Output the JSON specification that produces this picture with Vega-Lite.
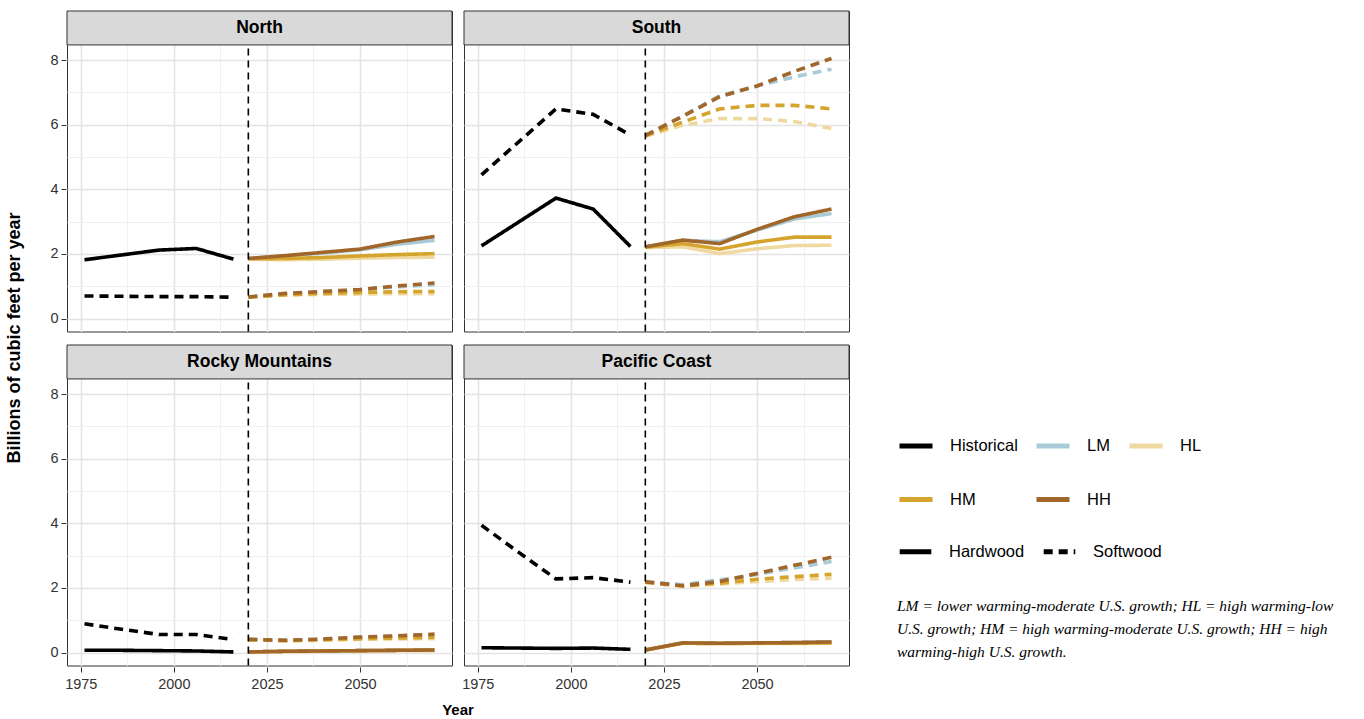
{
  "$schema": "https://vega.github.io/schema/vega-lite/v6.json",
  "background": "white",
  "padding": {"left": 5, "top": 10, "right": 5, "bottom": 5},
  "data": {"values": [
    {"region":"North","wood":"Hardwood","scenario":"Historical","year":1976,"value":1.82},
    {"region":"North","wood":"Hardwood","scenario":"Historical","year":1986,"value":1.97},
    {"region":"North","wood":"Hardwood","scenario":"Historical","year":1996,"value":2.12},
    {"region":"North","wood":"Hardwood","scenario":"Historical","year":2006,"value":2.17},
    {"region":"North","wood":"Hardwood","scenario":"Historical","year":2016,"value":1.84},
    {"region":"North","wood":"Softwood","scenario":"Historical","year":1976,"value":0.70},
    {"region":"North","wood":"Softwood","scenario":"Historical","year":1986,"value":0.69},
    {"region":"North","wood":"Softwood","scenario":"Historical","year":1996,"value":0.68},
    {"region":"North","wood":"Softwood","scenario":"Historical","year":2006,"value":0.68},
    {"region":"North","wood":"Softwood","scenario":"Historical","year":2016,"value":0.66},
    {"region":"North","wood":"Hardwood","scenario":"LM","year":2020,"value":1.86},
    {"region":"North","wood":"Hardwood","scenario":"LM","year":2030,"value":1.94},
    {"region":"North","wood":"Hardwood","scenario":"LM","year":2040,"value":2.03},
    {"region":"North","wood":"Hardwood","scenario":"LM","year":2050,"value":2.13},
    {"region":"North","wood":"Hardwood","scenario":"LM","year":2060,"value":2.30},
    {"region":"North","wood":"Hardwood","scenario":"LM","year":2070,"value":2.42},
    {"region":"North","wood":"Hardwood","scenario":"HL","year":2020,"value":1.84},
    {"region":"North","wood":"Hardwood","scenario":"HL","year":2030,"value":1.82},
    {"region":"North","wood":"Hardwood","scenario":"HL","year":2040,"value":1.84},
    {"region":"North","wood":"Hardwood","scenario":"HL","year":2050,"value":1.87},
    {"region":"North","wood":"Hardwood","scenario":"HL","year":2060,"value":1.89},
    {"region":"North","wood":"Hardwood","scenario":"HL","year":2070,"value":1.90},
    {"region":"North","wood":"Hardwood","scenario":"HM","year":2020,"value":1.85},
    {"region":"North","wood":"Hardwood","scenario":"HM","year":2030,"value":1.86},
    {"region":"North","wood":"Hardwood","scenario":"HM","year":2040,"value":1.89},
    {"region":"North","wood":"Hardwood","scenario":"HM","year":2050,"value":1.94},
    {"region":"North","wood":"Hardwood","scenario":"HM","year":2060,"value":1.98},
    {"region":"North","wood":"Hardwood","scenario":"HM","year":2070,"value":2.01},
    {"region":"North","wood":"Hardwood","scenario":"HH","year":2020,"value":1.86},
    {"region":"North","wood":"Hardwood","scenario":"HH","year":2030,"value":1.95},
    {"region":"North","wood":"Hardwood","scenario":"HH","year":2040,"value":2.05},
    {"region":"North","wood":"Hardwood","scenario":"HH","year":2050,"value":2.15},
    {"region":"North","wood":"Hardwood","scenario":"HH","year":2060,"value":2.37},
    {"region":"North","wood":"Hardwood","scenario":"HH","year":2070,"value":2.54},
    {"region":"North","wood":"Softwood","scenario":"LM","year":2020,"value":0.67},
    {"region":"North","wood":"Softwood","scenario":"LM","year":2030,"value":0.77},
    {"region":"North","wood":"Softwood","scenario":"LM","year":2040,"value":0.83},
    {"region":"North","wood":"Softwood","scenario":"LM","year":2050,"value":0.89},
    {"region":"North","wood":"Softwood","scenario":"LM","year":2060,"value":0.98},
    {"region":"North","wood":"Softwood","scenario":"LM","year":2070,"value":1.05},
    {"region":"North","wood":"Softwood","scenario":"HL","year":2020,"value":0.66},
    {"region":"North","wood":"Softwood","scenario":"HL","year":2030,"value":0.73},
    {"region":"North","wood":"Softwood","scenario":"HL","year":2040,"value":0.75},
    {"region":"North","wood":"Softwood","scenario":"HL","year":2050,"value":0.76},
    {"region":"North","wood":"Softwood","scenario":"HL","year":2060,"value":0.77},
    {"region":"North","wood":"Softwood","scenario":"HL","year":2070,"value":0.77},
    {"region":"North","wood":"Softwood","scenario":"HM","year":2020,"value":0.66},
    {"region":"North","wood":"Softwood","scenario":"HM","year":2030,"value":0.74},
    {"region":"North","wood":"Softwood","scenario":"HM","year":2040,"value":0.78},
    {"region":"North","wood":"Softwood","scenario":"HM","year":2050,"value":0.81},
    {"region":"North","wood":"Softwood","scenario":"HM","year":2060,"value":0.83},
    {"region":"North","wood":"Softwood","scenario":"HM","year":2070,"value":0.84},
    {"region":"North","wood":"Softwood","scenario":"HH","year":2020,"value":0.67},
    {"region":"North","wood":"Softwood","scenario":"HH","year":2030,"value":0.78},
    {"region":"North","wood":"Softwood","scenario":"HH","year":2040,"value":0.84},
    {"region":"North","wood":"Softwood","scenario":"HH","year":2050,"value":0.90},
    {"region":"North","wood":"Softwood","scenario":"HH","year":2060,"value":1.01},
    {"region":"North","wood":"Softwood","scenario":"HH","year":2070,"value":1.10},

    {"region":"South","wood":"Hardwood","scenario":"Historical","year":1976,"value":2.25},
    {"region":"South","wood":"Hardwood","scenario":"Historical","year":1986,"value":2.99},
    {"region":"South","wood":"Hardwood","scenario":"Historical","year":1996,"value":3.73},
    {"region":"South","wood":"Hardwood","scenario":"Historical","year":2006,"value":3.39},
    {"region":"South","wood":"Hardwood","scenario":"Historical","year":2016,"value":2.23},
    {"region":"South","wood":"Softwood","scenario":"Historical","year":1976,"value":4.45},
    {"region":"South","wood":"Softwood","scenario":"Historical","year":1986,"value":5.47},
    {"region":"South","wood":"Softwood","scenario":"Historical","year":1996,"value":6.49},
    {"region":"South","wood":"Softwood","scenario":"Historical","year":2006,"value":6.32},
    {"region":"South","wood":"Softwood","scenario":"Historical","year":2016,"value":5.68},
    {"region":"South","wood":"Hardwood","scenario":"LM","year":2020,"value":2.22},
    {"region":"South","wood":"Hardwood","scenario":"LM","year":2030,"value":2.42},
    {"region":"South","wood":"Hardwood","scenario":"LM","year":2040,"value":2.38},
    {"region":"South","wood":"Hardwood","scenario":"LM","year":2050,"value":2.74},
    {"region":"South","wood":"Hardwood","scenario":"LM","year":2060,"value":3.08},
    {"region":"South","wood":"Hardwood","scenario":"LM","year":2070,"value":3.25},
    {"region":"South","wood":"Hardwood","scenario":"HL","year":2020,"value":2.20},
    {"region":"South","wood":"Hardwood","scenario":"HL","year":2030,"value":2.22},
    {"region":"South","wood":"Hardwood","scenario":"HL","year":2040,"value":2.01},
    {"region":"South","wood":"Hardwood","scenario":"HL","year":2050,"value":2.16},
    {"region":"South","wood":"Hardwood","scenario":"HL","year":2060,"value":2.26},
    {"region":"South","wood":"Hardwood","scenario":"HL","year":2070,"value":2.27},
    {"region":"South","wood":"Hardwood","scenario":"HM","year":2020,"value":2.21},
    {"region":"South","wood":"Hardwood","scenario":"HM","year":2030,"value":2.32},
    {"region":"South","wood":"Hardwood","scenario":"HM","year":2040,"value":2.15},
    {"region":"South","wood":"Hardwood","scenario":"HM","year":2050,"value":2.37},
    {"region":"South","wood":"Hardwood","scenario":"HM","year":2060,"value":2.52},
    {"region":"South","wood":"Hardwood","scenario":"HM","year":2070,"value":2.52},
    {"region":"South","wood":"Hardwood","scenario":"HH","year":2020,"value":2.22},
    {"region":"South","wood":"Hardwood","scenario":"HH","year":2030,"value":2.43},
    {"region":"South","wood":"Hardwood","scenario":"HH","year":2040,"value":2.32},
    {"region":"South","wood":"Hardwood","scenario":"HH","year":2050,"value":2.76},
    {"region":"South","wood":"Hardwood","scenario":"HH","year":2060,"value":3.15},
    {"region":"South","wood":"Hardwood","scenario":"HH","year":2070,"value":3.39},
    {"region":"South","wood":"Softwood","scenario":"LM","year":2020,"value":5.67},
    {"region":"South","wood":"Softwood","scenario":"LM","year":2030,"value":6.26},
    {"region":"South","wood":"Softwood","scenario":"LM","year":2040,"value":6.90},
    {"region":"South","wood":"Softwood","scenario":"LM","year":2050,"value":7.20},
    {"region":"South","wood":"Softwood","scenario":"LM","year":2060,"value":7.48},
    {"region":"South","wood":"Softwood","scenario":"LM","year":2070,"value":7.72},
    {"region":"South","wood":"Softwood","scenario":"HL","year":2020,"value":5.64},
    {"region":"South","wood":"Softwood","scenario":"HL","year":2030,"value":5.98},
    {"region":"South","wood":"Softwood","scenario":"HL","year":2040,"value":6.19},
    {"region":"South","wood":"Softwood","scenario":"HL","year":2050,"value":6.19},
    {"region":"South","wood":"Softwood","scenario":"HL","year":2060,"value":6.10},
    {"region":"South","wood":"Softwood","scenario":"HL","year":2070,"value":5.88},
    {"region":"South","wood":"Softwood","scenario":"HM","year":2020,"value":5.66},
    {"region":"South","wood":"Softwood","scenario":"HM","year":2030,"value":6.08},
    {"region":"South","wood":"Softwood","scenario":"HM","year":2040,"value":6.49},
    {"region":"South","wood":"Softwood","scenario":"HM","year":2050,"value":6.60},
    {"region":"South","wood":"Softwood","scenario":"HM","year":2060,"value":6.60},
    {"region":"South","wood":"Softwood","scenario":"HM","year":2070,"value":6.49},
    {"region":"South","wood":"Softwood","scenario":"HH","year":2020,"value":5.67},
    {"region":"South","wood":"Softwood","scenario":"HH","year":2030,"value":6.26},
    {"region":"South","wood":"Softwood","scenario":"HH","year":2040,"value":6.87},
    {"region":"South","wood":"Softwood","scenario":"HH","year":2050,"value":7.20},
    {"region":"South","wood":"Softwood","scenario":"HH","year":2060,"value":7.65},
    {"region":"South","wood":"Softwood","scenario":"HH","year":2070,"value":8.05},

    {"region":"Rocky Mountains","wood":"Hardwood","scenario":"Historical","year":1976,"value":0.07},
    {"region":"Rocky Mountains","wood":"Hardwood","scenario":"Historical","year":1986,"value":0.07},
    {"region":"Rocky Mountains","wood":"Hardwood","scenario":"Historical","year":1996,"value":0.06},
    {"region":"Rocky Mountains","wood":"Hardwood","scenario":"Historical","year":2006,"value":0.05},
    {"region":"Rocky Mountains","wood":"Hardwood","scenario":"Historical","year":2016,"value":0.02},
    {"region":"Rocky Mountains","wood":"Softwood","scenario":"Historical","year":1976,"value":0.89},
    {"region":"Rocky Mountains","wood":"Softwood","scenario":"Historical","year":1986,"value":0.72},
    {"region":"Rocky Mountains","wood":"Softwood","scenario":"Historical","year":1996,"value":0.56},
    {"region":"Rocky Mountains","wood":"Softwood","scenario":"Historical","year":2006,"value":0.56},
    {"region":"Rocky Mountains","wood":"Softwood","scenario":"Historical","year":2016,"value":0.40},
    {"region":"Rocky Mountains","wood":"Hardwood","scenario":"LM","year":2020,"value":0.02},
    {"region":"Rocky Mountains","wood":"Hardwood","scenario":"LM","year":2030,"value":0.04},
    {"region":"Rocky Mountains","wood":"Hardwood","scenario":"LM","year":2040,"value":0.05},
    {"region":"Rocky Mountains","wood":"Hardwood","scenario":"LM","year":2050,"value":0.06},
    {"region":"Rocky Mountains","wood":"Hardwood","scenario":"LM","year":2060,"value":0.07},
    {"region":"Rocky Mountains","wood":"Hardwood","scenario":"LM","year":2070,"value":0.08},
    {"region":"Rocky Mountains","wood":"Hardwood","scenario":"HL","year":2020,"value":0.02},
    {"region":"Rocky Mountains","wood":"Hardwood","scenario":"HL","year":2030,"value":0.03},
    {"region":"Rocky Mountains","wood":"Hardwood","scenario":"HL","year":2040,"value":0.04},
    {"region":"Rocky Mountains","wood":"Hardwood","scenario":"HL","year":2050,"value":0.05},
    {"region":"Rocky Mountains","wood":"Hardwood","scenario":"HL","year":2060,"value":0.06},
    {"region":"Rocky Mountains","wood":"Hardwood","scenario":"HL","year":2070,"value":0.06},
    {"region":"Rocky Mountains","wood":"Hardwood","scenario":"HM","year":2020,"value":0.02},
    {"region":"Rocky Mountains","wood":"Hardwood","scenario":"HM","year":2030,"value":0.04},
    {"region":"Rocky Mountains","wood":"Hardwood","scenario":"HM","year":2040,"value":0.05},
    {"region":"Rocky Mountains","wood":"Hardwood","scenario":"HM","year":2050,"value":0.06},
    {"region":"Rocky Mountains","wood":"Hardwood","scenario":"HM","year":2060,"value":0.07},
    {"region":"Rocky Mountains","wood":"Hardwood","scenario":"HM","year":2070,"value":0.07},
    {"region":"Rocky Mountains","wood":"Hardwood","scenario":"HH","year":2020,"value":0.02},
    {"region":"Rocky Mountains","wood":"Hardwood","scenario":"HH","year":2030,"value":0.04},
    {"region":"Rocky Mountains","wood":"Hardwood","scenario":"HH","year":2040,"value":0.05},
    {"region":"Rocky Mountains","wood":"Hardwood","scenario":"HH","year":2050,"value":0.06},
    {"region":"Rocky Mountains","wood":"Hardwood","scenario":"HH","year":2060,"value":0.07},
    {"region":"Rocky Mountains","wood":"Hardwood","scenario":"HH","year":2070,"value":0.08},
    {"region":"Rocky Mountains","wood":"Softwood","scenario":"LM","year":2020,"value":0.41},
    {"region":"Rocky Mountains","wood":"Softwood","scenario":"LM","year":2030,"value":0.38},
    {"region":"Rocky Mountains","wood":"Softwood","scenario":"LM","year":2040,"value":0.42},
    {"region":"Rocky Mountains","wood":"Softwood","scenario":"LM","year":2050,"value":0.47},
    {"region":"Rocky Mountains","wood":"Softwood","scenario":"LM","year":2060,"value":0.51},
    {"region":"Rocky Mountains","wood":"Softwood","scenario":"LM","year":2070,"value":0.55},
    {"region":"Rocky Mountains","wood":"Softwood","scenario":"HL","year":2020,"value":0.40},
    {"region":"Rocky Mountains","wood":"Softwood","scenario":"HL","year":2030,"value":0.36},
    {"region":"Rocky Mountains","wood":"Softwood","scenario":"HL","year":2040,"value":0.38},
    {"region":"Rocky Mountains","wood":"Softwood","scenario":"HL","year":2050,"value":0.41},
    {"region":"Rocky Mountains","wood":"Softwood","scenario":"HL","year":2060,"value":0.42},
    {"region":"Rocky Mountains","wood":"Softwood","scenario":"HL","year":2070,"value":0.43},
    {"region":"Rocky Mountains","wood":"Softwood","scenario":"HM","year":2020,"value":0.40},
    {"region":"Rocky Mountains","wood":"Softwood","scenario":"HM","year":2030,"value":0.37},
    {"region":"Rocky Mountains","wood":"Softwood","scenario":"HM","year":2040,"value":0.40},
    {"region":"Rocky Mountains","wood":"Softwood","scenario":"HM","year":2050,"value":0.43},
    {"region":"Rocky Mountains","wood":"Softwood","scenario":"HM","year":2060,"value":0.45},
    {"region":"Rocky Mountains","wood":"Softwood","scenario":"HM","year":2070,"value":0.47},
    {"region":"Rocky Mountains","wood":"Softwood","scenario":"HH","year":2020,"value":0.41},
    {"region":"Rocky Mountains","wood":"Softwood","scenario":"HH","year":2030,"value":0.38},
    {"region":"Rocky Mountains","wood":"Softwood","scenario":"HH","year":2040,"value":0.42},
    {"region":"Rocky Mountains","wood":"Softwood","scenario":"HH","year":2050,"value":0.48},
    {"region":"Rocky Mountains","wood":"Softwood","scenario":"HH","year":2060,"value":0.52},
    {"region":"Rocky Mountains","wood":"Softwood","scenario":"HH","year":2070,"value":0.57},

    {"region":"Pacific Coast","wood":"Hardwood","scenario":"Historical","year":1976,"value":0.15},
    {"region":"Pacific Coast","wood":"Hardwood","scenario":"Historical","year":1986,"value":0.14},
    {"region":"Pacific Coast","wood":"Hardwood","scenario":"Historical","year":1996,"value":0.13},
    {"region":"Pacific Coast","wood":"Hardwood","scenario":"Historical","year":2006,"value":0.14},
    {"region":"Pacific Coast","wood":"Hardwood","scenario":"Historical","year":2016,"value":0.10},
    {"region":"Pacific Coast","wood":"Softwood","scenario":"Historical","year":1976,"value":3.94},
    {"region":"Pacific Coast","wood":"Softwood","scenario":"Historical","year":1986,"value":3.10},
    {"region":"Pacific Coast","wood":"Softwood","scenario":"Historical","year":1996,"value":2.28},
    {"region":"Pacific Coast","wood":"Softwood","scenario":"Historical","year":2006,"value":2.32},
    {"region":"Pacific Coast","wood":"Softwood","scenario":"Historical","year":2016,"value":2.18},
    {"region":"Pacific Coast","wood":"Hardwood","scenario":"LM","year":2020,"value":0.08},
    {"region":"Pacific Coast","wood":"Hardwood","scenario":"LM","year":2030,"value":0.30},
    {"region":"Pacific Coast","wood":"Hardwood","scenario":"LM","year":2040,"value":0.29},
    {"region":"Pacific Coast","wood":"Hardwood","scenario":"LM","year":2050,"value":0.30},
    {"region":"Pacific Coast","wood":"Hardwood","scenario":"LM","year":2060,"value":0.31},
    {"region":"Pacific Coast","wood":"Hardwood","scenario":"LM","year":2070,"value":0.33},
    {"region":"Pacific Coast","wood":"Hardwood","scenario":"HL","year":2020,"value":0.08},
    {"region":"Pacific Coast","wood":"Hardwood","scenario":"HL","year":2030,"value":0.29},
    {"region":"Pacific Coast","wood":"Hardwood","scenario":"HL","year":2040,"value":0.28},
    {"region":"Pacific Coast","wood":"Hardwood","scenario":"HL","year":2050,"value":0.28},
    {"region":"Pacific Coast","wood":"Hardwood","scenario":"HL","year":2060,"value":0.28},
    {"region":"Pacific Coast","wood":"Hardwood","scenario":"HL","year":2070,"value":0.29},
    {"region":"Pacific Coast","wood":"Hardwood","scenario":"HM","year":2020,"value":0.08},
    {"region":"Pacific Coast","wood":"Hardwood","scenario":"HM","year":2030,"value":0.29},
    {"region":"Pacific Coast","wood":"Hardwood","scenario":"HM","year":2040,"value":0.28},
    {"region":"Pacific Coast","wood":"Hardwood","scenario":"HM","year":2050,"value":0.29},
    {"region":"Pacific Coast","wood":"Hardwood","scenario":"HM","year":2060,"value":0.29},
    {"region":"Pacific Coast","wood":"Hardwood","scenario":"HM","year":2070,"value":0.30},
    {"region":"Pacific Coast","wood":"Hardwood","scenario":"HH","year":2020,"value":0.08},
    {"region":"Pacific Coast","wood":"Hardwood","scenario":"HH","year":2030,"value":0.30},
    {"region":"Pacific Coast","wood":"Hardwood","scenario":"HH","year":2040,"value":0.29},
    {"region":"Pacific Coast","wood":"Hardwood","scenario":"HH","year":2050,"value":0.30},
    {"region":"Pacific Coast","wood":"Hardwood","scenario":"HH","year":2060,"value":0.31},
    {"region":"Pacific Coast","wood":"Hardwood","scenario":"HH","year":2070,"value":0.33},
    {"region":"Pacific Coast","wood":"Softwood","scenario":"LM","year":2020,"value":2.19},
    {"region":"Pacific Coast","wood":"Softwood","scenario":"LM","year":2030,"value":2.10},
    {"region":"Pacific Coast","wood":"Softwood","scenario":"LM","year":2040,"value":2.25},
    {"region":"Pacific Coast","wood":"Softwood","scenario":"LM","year":2050,"value":2.42},
    {"region":"Pacific Coast","wood":"Softwood","scenario":"LM","year":2060,"value":2.62},
    {"region":"Pacific Coast","wood":"Softwood","scenario":"LM","year":2070,"value":2.82},
    {"region":"Pacific Coast","wood":"Softwood","scenario":"HL","year":2020,"value":2.17},
    {"region":"Pacific Coast","wood":"Softwood","scenario":"HL","year":2030,"value":2.05},
    {"region":"Pacific Coast","wood":"Softwood","scenario":"HL","year":2040,"value":2.12},
    {"region":"Pacific Coast","wood":"Softwood","scenario":"HL","year":2050,"value":2.20},
    {"region":"Pacific Coast","wood":"Softwood","scenario":"HL","year":2060,"value":2.26},
    {"region":"Pacific Coast","wood":"Softwood","scenario":"HL","year":2070,"value":2.30},
    {"region":"Pacific Coast","wood":"Softwood","scenario":"HM","year":2020,"value":2.18},
    {"region":"Pacific Coast","wood":"Softwood","scenario":"HM","year":2030,"value":2.06},
    {"region":"Pacific Coast","wood":"Softwood","scenario":"HM","year":2040,"value":2.15},
    {"region":"Pacific Coast","wood":"Softwood","scenario":"HM","year":2050,"value":2.27},
    {"region":"Pacific Coast","wood":"Softwood","scenario":"HM","year":2060,"value":2.35},
    {"region":"Pacific Coast","wood":"Softwood","scenario":"HM","year":2070,"value":2.42},
    {"region":"Pacific Coast","wood":"Softwood","scenario":"HH","year":2020,"value":2.19},
    {"region":"Pacific Coast","wood":"Softwood","scenario":"HH","year":2030,"value":2.07},
    {"region":"Pacific Coast","wood":"Softwood","scenario":"HH","year":2040,"value":2.20},
    {"region":"Pacific Coast","wood":"Softwood","scenario":"HH","year":2050,"value":2.45},
    {"region":"Pacific Coast","wood":"Softwood","scenario":"HH","year":2060,"value":2.70},
    {"region":"Pacific Coast","wood":"Softwood","scenario":"HH","year":2070,"value":2.95}
  ]},
  "transform": [
    {"calculate": "datum.region === 'North' || datum.region === 'South' ? 'top' : 'bottom'", "as": "rowpos"},
    {"calculate": "datum.region === 'North' || datum.region === 'Rocky Mountains' ? 'left' : 'right'", "as": "colpos"}
  ],
  "facet": {
    "row": {"field": "rowpos", "type": "nominal", "sort": ["top", "bottom"],
      "header": {"labels": false, "title": "Billions of cubic feet per year", "titleFont": "Liberation Sans", "titleFontSize": 18, "titleFontWeight": "bold", "titleColor": "black", "titlePadding": 15}},
    "column": {"field": "colpos", "type": "nominal", "sort": ["left", "right"],
      "header": {"labels": false, "title": "Year", "titleOrient": "bottom", "titleFont": "Liberation Sans", "titleFontSize": 15, "titleFontWeight": "bold", "titleColor": "black", "titlePadding": 2}}
  },
  "spacing": {"row": 11, "column": 10},
  "spec": {
    "width": 385,
    "height": 320.5,
    "layer": [
      {
        "mark": {"type": "line", "strokeWidth": 3.6, "strokeCap": "butt", "strokeJoin": "round"},
        "encoding": {
          "x": {"field": "year", "type": "quantitative",
            "scale": {"domain": [1971.3, 2074.7], "nice": false, "zero": false},
            "axis": {"title": null, "values": [1975, 1987.5, 2000, 2012.5, 2025, 2037.5, 2050, 2062.5], "format": "d",
              "labelExpr": "datum.value % 25 === 0 ? datum.label : ''",
              "tickOpacity": {"condition": {"test": "datum.value % 25 === 0", "value": 1}, "value": 0},
              "gridColor": {"condition": {"test": "datum.value % 25 === 0", "value": "#e4e4e4"}, "value": "#f0f0f0"},
              "gridWidth": {"condition": {"test": "datum.value % 25 === 0", "value": 1.6}, "value": 1},
              "domain": false, "tickColor": "#333333", "tickSize": 5, "labelFont": "Liberation Sans", "labelFontSize": 14.5, "labelColor": "#333333", "labelPadding": 5}},
          "y": {"field": "value", "type": "quantitative",
            "scale": {"domain": [-0.4, 9.52], "nice": false, "zero": false},
            "axis": {"title": null, "values": [0, 1, 2, 3, 4, 5, 6, 7, 8],
              "labelExpr": "datum.value % 2 === 0 ? datum.label : ''",
              "tickOpacity": {"condition": {"test": "datum.value % 2 === 0", "value": 1}, "value": 0},
              "gridColor": {"condition": {"test": "datum.value % 2 === 0", "value": "#e4e4e4"}, "value": "#f0f0f0"},
              "gridWidth": {"condition": {"test": "datum.value % 2 === 0", "value": 1.6}, "value": 1},
              "domain": false, "tickColor": "#333333", "tickSize": 5, "labelFont": "Liberation Sans", "labelFontSize": 14.5, "labelColor": "#333333", "labelPadding": 3}},
          "color": {"field": "scenario", "type": "nominal",
            "scale": {"domain": ["Historical", "LM", "HL", "HM", "HH"], "range": ["#000000", "#a9cbd8", "#f0d9a0", "#d4a42c", "#a0662a"]},
            "legend": {"orient": "none", "legendX": 830, "legendY": 416, "columns": 3, "title": null, "direction": "horizontal",
              "symbolType": "stroke", "symbolSize": 1089, "symbolStrokeWidth": 5,
              "labelFont": "Liberation Sans", "labelFontSize": 16.5, "labelColor": "black", "labelOffset": 15,
              "columnPadding": 8, "rowPadding": 24.5}},
          "strokeDash": {"field": "wood", "type": "nominal",
            "scale": {"domain": ["Hardwood", "Softwood"], "range": [[1, 0], [9, 6]]},
            "legend": {"orient": "none", "legendX": 830, "legendY": 522, "columns": 2, "direction": "horizontal",
              "title": ["LM = lower warming-moderate U.S. growth; HL = high warming-low", "U.S. growth; HM = high warming-moderate U.S. growth; HH = high", "warming-high U.S. growth."],
              "titleOrient": "bottom", "titleAnchor": "start", "titleAlign": "left", "titleFont": "Liberation Serif", "titleFontStyle": "italic", "titleFontWeight": "normal", "titleFontSize": 15.5, "titleLineHeight": 23, "titleLimit": 1000, "titleColor": "black", "titlePadding": 37,
              "symbolType": "stroke", "symbolSize": 1000, "symbolStrokeWidth": 5, "symbolStrokeColor": "black",
              "labelFont": "Liberation Sans", "labelFontSize": 16.5, "labelColor": "black", "labelOffset": 15,
              "columnPadding": 8}}
        }
      },
      {
        "transform": [{"aggregate": [{"op": "count", "as": "n"}], "groupby": ["region"]}],
        "mark": {"type": "rule", "strokeDash": [7, 5], "strokeWidth": 1.6, "color": "black"},
        "encoding": {
          "x": {"datum": 2020, "type": "quantitative", "scale": {"domain": [1971.3, 2074.7], "nice": false, "zero": false},
            "axis": {"title": null, "values": [1975, 1987.5, 2000, 2012.5, 2025, 2037.5, 2050, 2062.5], "format": "d",
              "labelExpr": "datum.value % 25 === 0 ? datum.label : ''",
              "tickOpacity": {"condition": {"test": "datum.value % 25 === 0", "value": 1}, "value": 0},
              "gridColor": {"condition": {"test": "datum.value % 25 === 0", "value": "#e4e4e4"}, "value": "#f0f0f0"},
              "gridWidth": {"condition": {"test": "datum.value % 25 === 0", "value": 1.6}, "value": 1},
              "domain": false, "tickColor": "#333333", "tickSize": 5, "labelFont": "Liberation Sans", "labelFontSize": 14.5, "labelColor": "#333333", "labelPadding": 5}},
          "y": {"datum": -0.4, "type": "quantitative", "scale": {"domain": [-0.4, 9.52], "nice": false, "zero": false},
            "axis": {"title": null, "values": [0, 1, 2, 3, 4, 5, 6, 7, 8],
              "labelExpr": "datum.value % 2 === 0 ? datum.label : ''",
              "tickOpacity": {"condition": {"test": "datum.value % 2 === 0", "value": 1}, "value": 0},
              "gridColor": {"condition": {"test": "datum.value % 2 === 0", "value": "#e4e4e4"}, "value": "#f0f0f0"},
              "gridWidth": {"condition": {"test": "datum.value % 2 === 0", "value": 1.6}, "value": 1},
              "domain": false, "tickColor": "#333333", "tickSize": 5, "labelFont": "Liberation Sans", "labelFontSize": 14.5, "labelColor": "#333333", "labelPadding": 3}},
          "y2": {"datum": 8.47}
        }
      },
      {
        "transform": [{"aggregate": [{"op": "count", "as": "n"}], "groupby": ["region"]}],
        "mark": {"type": "rect", "fill": "#d9d9d9", "stroke": "#333333", "strokeWidth": 1},
        "encoding": {
          "x": {"datum": 1971.3, "type": "quantitative", "scale": {"domain": [1971.3, 2074.7], "nice": false, "zero": false},
            "axis": {"title": null, "values": [1975, 1987.5, 2000, 2012.5, 2025, 2037.5, 2050, 2062.5], "format": "d",
              "labelExpr": "datum.value % 25 === 0 ? datum.label : ''",
              "tickOpacity": {"condition": {"test": "datum.value % 25 === 0", "value": 1}, "value": 0},
              "gridColor": {"condition": {"test": "datum.value % 25 === 0", "value": "#e4e4e4"}, "value": "#f0f0f0"},
              "gridWidth": {"condition": {"test": "datum.value % 25 === 0", "value": 1.6}, "value": 1},
              "domain": false, "tickColor": "#333333", "tickSize": 5, "labelFont": "Liberation Sans", "labelFontSize": 14.5, "labelColor": "#333333", "labelPadding": 5}},
          "x2": {"datum": 2074.7},
          "y": {"datum": 8.47, "type": "quantitative", "scale": {"domain": [-0.4, 9.52], "nice": false, "zero": false},
            "axis": {"title": null, "values": [0, 1, 2, 3, 4, 5, 6, 7, 8],
              "labelExpr": "datum.value % 2 === 0 ? datum.label : ''",
              "tickOpacity": {"condition": {"test": "datum.value % 2 === 0", "value": 1}, "value": 0},
              "gridColor": {"condition": {"test": "datum.value % 2 === 0", "value": "#e4e4e4"}, "value": "#f0f0f0"},
              "gridWidth": {"condition": {"test": "datum.value % 2 === 0", "value": 1.6}, "value": 1},
              "domain": false, "tickColor": "#333333", "tickSize": 5, "labelFont": "Liberation Sans", "labelFontSize": 14.5, "labelColor": "#333333", "labelPadding": 3}},
          "y2": {"datum": 9.52}
        }
      },
      {
        "transform": [{"aggregate": [{"op": "count", "as": "n"}], "groupby": ["region"]}],
        "mark": {"type": "text", "font": "Liberation Sans", "fontSize": 17.5, "fontWeight": "bold", "color": "black", "baseline": "middle", "align": "center"},
        "encoding": {
          "x": {"datum": 2023, "type": "quantitative", "scale": {"domain": [1971.3, 2074.7], "nice": false, "zero": false},
            "axis": {"title": null, "values": [1975, 1987.5, 2000, 2012.5, 2025, 2037.5, 2050, 2062.5], "format": "d",
              "labelExpr": "datum.value % 25 === 0 ? datum.label : ''",
              "tickOpacity": {"condition": {"test": "datum.value % 25 === 0", "value": 1}, "value": 0},
              "gridColor": {"condition": {"test": "datum.value % 25 === 0", "value": "#e4e4e4"}, "value": "#f0f0f0"},
              "gridWidth": {"condition": {"test": "datum.value % 25 === 0", "value": 1.6}, "value": 1},
              "domain": false, "tickColor": "#333333", "tickSize": 5, "labelFont": "Liberation Sans", "labelFontSize": 14.5, "labelColor": "#333333", "labelPadding": 5}},
          "y": {"datum": 8.99, "type": "quantitative", "scale": {"domain": [-0.4, 9.52], "nice": false, "zero": false},
            "axis": {"title": null, "values": [0, 1, 2, 3, 4, 5, 6, 7, 8],
              "labelExpr": "datum.value % 2 === 0 ? datum.label : ''",
              "tickOpacity": {"condition": {"test": "datum.value % 2 === 0", "value": 1}, "value": 0},
              "gridColor": {"condition": {"test": "datum.value % 2 === 0", "value": "#e4e4e4"}, "value": "#f0f0f0"},
              "gridWidth": {"condition": {"test": "datum.value % 2 === 0", "value": 1.6}, "value": 1},
              "domain": false, "tickColor": "#333333", "tickSize": 5, "labelFont": "Liberation Sans", "labelFontSize": 14.5, "labelColor": "#333333", "labelPadding": 3}},
          "text": {"field": "region", "type": "nominal"}
        }
      }
    ]
  },
  "config": {
    "view": {"stroke": "#333333", "strokeWidth": 1},
    "font": "Liberation Sans"
  }
}
